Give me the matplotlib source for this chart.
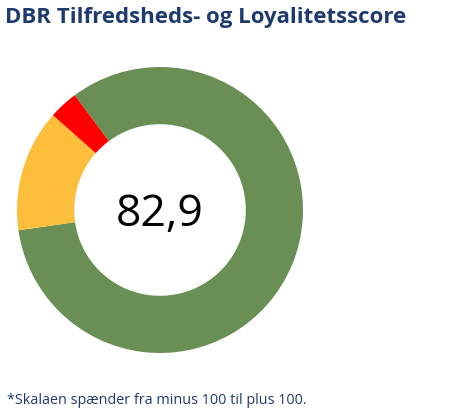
import matplotlib
matplotlib.use("Agg")
import matplotlib.pyplot as plt

# Share of respondents per group (promoters, passives, detractors), in percent
segments = ["Positive", "Neutrale", "Negative"]
shares = [82.9, 13.8, 3.3]
score_label = "82,9"

title = "DBR Tilfredsheds- og Loyalitetsscore"
footnote = "*Skalaen spænder fra minus 100 til plus 100."

colors = ["#6A8F55", "#FDBF3B", "#FE0000"]
navy = "#1F3A6E"

W, H = 476, 417
fig = plt.figure(figsize=(W / 100, H / 100), dpi=100)
fig.patch.set_facecolor("white")

# Doughnut placed by pixel geometry: center (160, 210), outer radius 143
cx, cy, r = 160, 210, 143
ax = fig.add_axes([(cx - r) / W, (H - cy - r) / H, 2 * r / W, 2 * r / H])
ax.pie(shares, colors=colors, startangle=126.6, counterclock=False,
       radius=1.0, wedgeprops=dict(width=0.40, linewidth=0))
ax.set_xlim(-1, 1)
ax.set_ylim(-1, 1)
ax.set_aspect("equal")
ax.axis("off")

ax.text(0, -0.03, score_label, ha="center", va="center", fontsize=32,
        family="Open Sans", color="black")

fig.text(5 / W, 1 - 17 / H, title, ha="left", va="center", fontsize=16,
         fontweight="bold", family="Open Sans", color=navy)
fig.text(7 / W, 1 - 401 / H, footnote, ha="left", va="center", fontsize=10.4,
         family="Open Sans", color=navy)

fig.savefig("out.png", dpi=100, facecolor="white")
